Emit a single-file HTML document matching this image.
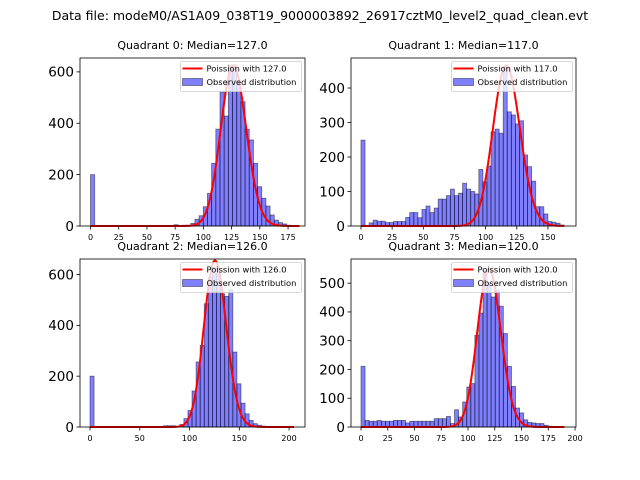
<!DOCTYPE html>
<html><head><meta charset="utf-8">
<style>
html,body{margin:0;padding:0;background:#fff;}
svg{display:block;font-family:"DejaVu Sans","Liberation Sans",sans-serif;}
</style></head>
<body>
<svg id="fig" width="640" height="480" viewBox="0 0 640 480" xmlns="http://www.w3.org/2000/svg">
<rect width="640" height="480" fill="#fff"/>
<text x="320" y="20" font-size="12.5" text-anchor="middle">Data file: modeM0/AS1A09_038T19_9000003892_26917cztM0_level2_quad_clean.evt</text>
</svg>
<script>
// ---- data ----
const titles = ["Quadrant 0: Median=127.0","Quadrant 1: Median=117.0","Quadrant 2: Median=126.0","Quadrant 3: Median=120.0"];
const lambdas = [127, 117, 126, 120];
const curvePeaks = [625, 465, 655, 550];
const dataMax = [185, 163, 205, 190];
const counts0 = [200,0,0,0,0,0,0,0,0,0,0,0,0,0,0,0,0,0,0,0,5,0,3,3,10,26,40,75,127,244,377,522,428,627,627,562,484,377,335,244,153,108,78,43,23,13,8,3,1,1];
const counts1 = [249,0,9,17,14,14,10,10,13,13,13,25,39,39,24,48,58,39,52,78,78,88,107,88,95,124,107,100,93,164,128,174,273,281,269,462,331,322,296,305,206,172,130,56,56,35,13,11,8,3];
const counts2 = [200,0,0,0,0,0,0,0,0,0,0,0,0,0,0,0,0,0,5,5,5,0,10,33,65,142,256,321,485,590,630,603,524,514,540,295,170,94,52,26,13,7,4,0,0,0,0,0,0,0];
const counts3 = [211,23,20,20,23,20,20,20,23,23,23,14,20,20,20,20,20,20,29,29,29,37,12,60,35,87,139,151,319,396,545,498,452,477,420,325,211,141,66,49,25,16,14,12,12,6,3,2,1,1];
const yTicks0 = [0,200,400,600];
const yTicks1 = [0,100,200,300,400];
const yTicks2 = [0,200,400,600];
const yTicks3 = [0,100,200,300,400,500];
const xTicks0 = [0,25,50,75,100,125,150,175];
const xTicks1 = [0,25,50,75,100,125,150];
const xTicks2 = [0,50,100,150,200];
const xTicks3 = [0,25,50,75,100,125,150,175,200];
const yMaxs = [654, 487, 661, 584];
const xMins = [-9.3, -8.0, -10.05, -9.35];
const xMaxs = [190, 172.5, 216, 200.9];

const allCounts=[counts0,counts1,counts2,counts3];
const allY=[yTicks0,yTicks1,yTicks2,yTicks3];
const allX=[xTicks0,xTicks1,xTicks2,xTicks3];
const boxes=[[80,58,225,168],[351,58,225,168],[80,259,225,168],[351,259,225,168]];
const NS="http://www.w3.org/2000/svg";
const svg=document.getElementById('fig');
function mk(tag,attrs,parent){const e=document.createElementNS(NS,tag);for(const k in attrs)e.setAttribute(k,attrs[k]);(parent||svg).appendChild(e);return e;}
function lgamma(n){let s=0;for(let i=2;i<=n;i++)s+=Math.log(i);return s;}
function pois(k,l){return Math.exp(k*Math.log(l)-l-lgamma(k));}

for(let q=0;q<4;q++){
  const [bx,by,bw,bh]=boxes[q];
  const g=mk('g',{});
  
  
  const xs=v=>bx+(v-xMins[q])/(xMaxs[q]-xMins[q])*bw;
  const ys=v=>by+bh-v/yMaxs[q]*bh;
  const t=mk('text',{x:bx+bw/2,y:by-9,'font-size':11,'text-anchor':'middle'},g);
  t.textContent=titles[q];
  
  
  const c=allCounts[q];const w=dataMax[q]/c.length;
  for(let i=0;i<c.length;i++){
    if(c[i]<=0)continue;
    const x0=xs(i*w),x1=xs((i+1)*w);
    const r=mk('rect',{x:x0,y:ys(c[i]),width:x1-x0,height:ys(0)-ys(c[i]),fill:'rgba(0,0,255,0.5)',stroke:'rgba(0,0,0,0.5)','stroke-width':0.8},g);
    
    
  }
  const l=lambdas[q];const scale=curvePeaks[q]/pois(l,l);
  let d='';
  for(let k=0;k<=dataMax[q];k++){d+=(k?'L':'M')+xs(k).toFixed(2)+','+ys(pois(k,l)*scale).toFixed(2);}
  const p=mk('path',{d:d,fill:'none',stroke:'#ff0000','stroke-width':2},g);
  
  
  mk('rect',{x:bx,y:by,width:bw,height:bh,fill:'none',stroke:'#000','stroke-width':0.8},g);
  allY[q].forEach(v=>{const y=ys(v);mk('line',{x1:bx-3.5,x2:bx,y1:y,y2:y,stroke:'#000','stroke-width':0.8},g);
    const tt=mk('text',{x:bx-6,y:y+4.8,'font-size':13.5,'text-anchor':'end'},g);tt.textContent=v;
    
    });
  allX[q].forEach(v=>{const x=xs(v);mk('line',{x1:x,x2:x,y1:by+bh,y2:by+bh+3.5,stroke:'#000','stroke-width':0.8},g);
    const tt=mk('text',{x:x,y:by+bh+14,'font-size':8,'text-anchor':'middle'},g);tt.textContent=v;
    
    });
  const lg=mk('g',{},g);
  
  
  const lx=bx+bw-124.5,ly=by+3.5;
  mk('rect',{x:lx,y:ly,width:121,height:30,rx:2,fill:'rgba(255,255,255,0.8)',stroke:'#ccc','stroke-width':0.8},lg);
  mk('line',{x1:lx+2,x2:lx+22,y1:ly+7,y2:ly+7,stroke:'#ff0000','stroke-width':2},lg);
  const t1=mk('text',{x:lx+26,y:ly+10,'font-size':8.3},lg);t1.textContent='Poission with '+l.toFixed(1);
  
  
  mk('rect',{x:lx+2,y:ly+17,width:20,height:7,fill:'rgba(0,0,255,0.5)',stroke:'rgba(0,0,0,0.5)','stroke-width':0.8},lg);
  const t2=mk('text',{x:lx+26,y:ly+23.5,'font-size':8.3},lg);t2.textContent='Observed distribution';
  
  
}
</script>
</body></html>
